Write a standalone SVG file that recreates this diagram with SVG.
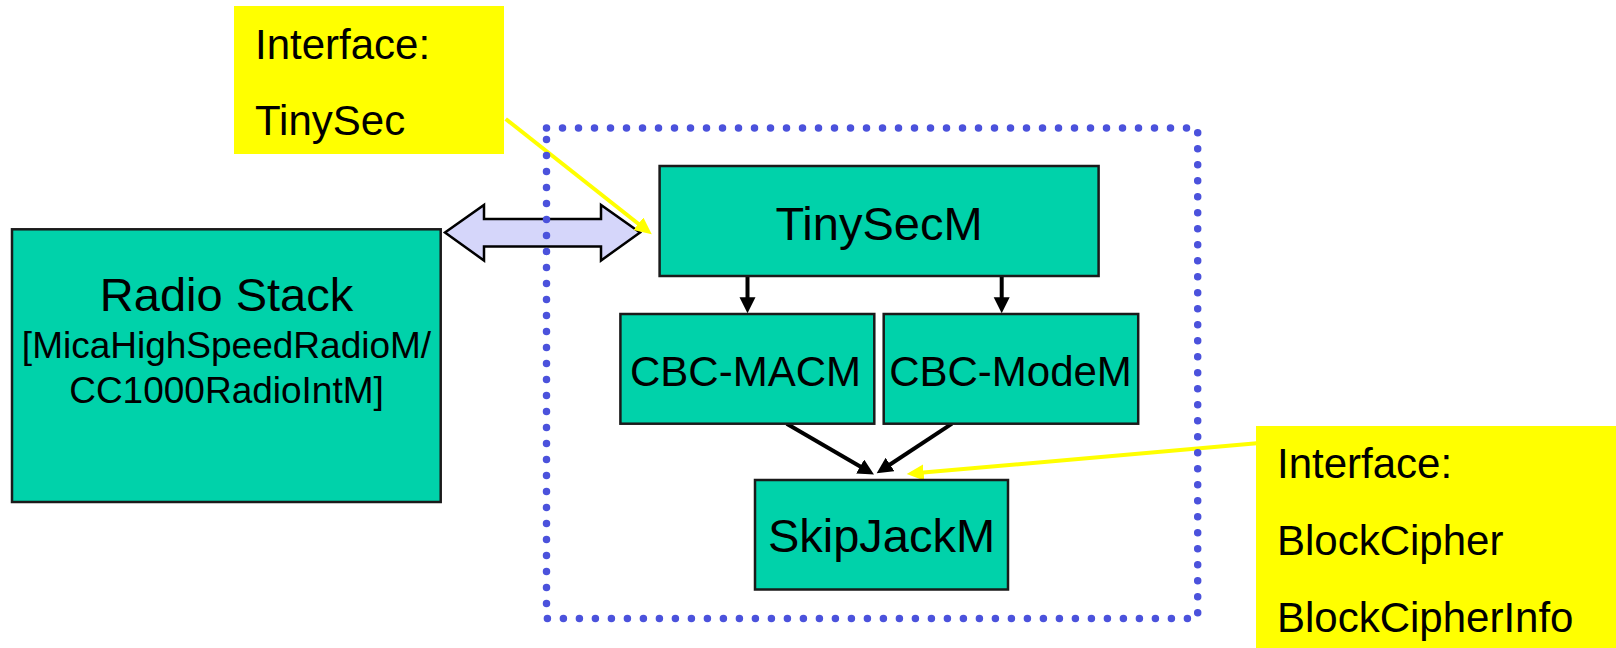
<svg xmlns="http://www.w3.org/2000/svg" width="1616" height="648" viewBox="0 0 1616 648">
<defs>
<style>
.node{fill:#00d2aa;stroke:#1a1a1a;stroke-width:2.5}
.note{fill:#ffff00}
.t{font-family:"Liberation Sans",Arial,sans-serif;fill:#000}
.c{text-anchor:middle}
.blk{stroke:#000;stroke-width:4;fill:none}
.yel{stroke:#ffff00;stroke-width:4;fill:none}
.dots{fill:none;stroke:#4b52dc;stroke-width:7.5;stroke-linecap:round;stroke-dasharray:0 16}
</style>
<marker id="ah" markerUnits="userSpaceOnUse" markerWidth="17" markerHeight="17" refX="10" refY="8" orient="auto">
<path d="M0,0 L16,8 L0,16 z" fill="#000"/>
</marker>
<marker id="ay" markerUnits="userSpaceOnUse" markerWidth="20" markerHeight="18" refX="12" refY="8" orient="auto">
<path d="M0,0 L17,8 L0,16 z" fill="#ffff00"/>
</marker>
</defs>
<rect width="1616" height="648" fill="#fff"/>

<g id="connectors">
<polygon points="445,232.5 484,205 484,219 601,219 601,205 640,232.5 601,260.5 601,246.5 484,246.5 484,260.5" fill="#d5d6fa" stroke="#000" stroke-width="2.5" stroke-linejoin="miter"/>
<line class="blk" x1="747.5" y1="276" x2="747.5" y2="307.3" marker-end="url(#ah)"/>
<line class="blk" x1="1001.7" y1="276" x2="1001.7" y2="307.3" marker-end="url(#ah)"/>
<line class="blk" x1="786.7" y1="423.7" x2="868.8" y2="471.5" marker-end="url(#ah)"/>
<line class="blk" x1="952" y1="423.7" x2="881.7" y2="470" marker-end="url(#ah)"/>
<line class="yel" x1="505.7" y1="119" x2="647.8" y2="231.2" marker-end="url(#ay)"/>
<line class="yel" x1="1256.7" y1="443.3" x2="911.7" y2="473.6" marker-end="url(#ay)"/>
</g>

<g id="container">
<rect class="dots" x="546.5" y="128" width="651.2" height="490.5"/>
</g>

<g id="note-tinysec">
<rect class="note" x="234" y="6" width="270" height="148"/>
<text class="t" x="255" y="59" font-size="42">Interface:</text>
<text class="t" x="255" y="135" font-size="42">TinySec</text>
</g>

<g id="radio-stack">
<rect class="node" x="12" y="229.3" width="428.7" height="272.7"/>
<text class="t c" x="226.5" y="311" font-size="47">Radio Stack</text>
<text class="t c" x="226.5" y="358" font-size="37">[MicaHighSpeedRadioM/</text>
<text class="t c" x="226.5" y="403" font-size="37">CC1000RadioIntM]</text>
</g>

<g id="tinysecm">
<rect class="node" x="659.6" y="166" width="439" height="110"/>
<text class="t c" x="879" y="240" font-size="47">TinySecM</text>
</g>

<g id="cbc-macm">
<rect class="node" x="620.4" y="314" width="253.9" height="109.7"/>
<text class="t c" x="745.5" y="386" font-size="42">CBC-MACM</text>
</g>

<g id="cbc-modem">
<rect class="node" x="883.7" y="314" width="254.5" height="109.7"/>
<text class="t c" x="1010.5" y="386" font-size="42">CBC-ModeM</text>
</g>

<g id="skipjackm">
<rect class="node" x="755" y="480" width="253" height="109.5"/>
<text class="t c" x="881.5" y="552" font-size="47">SkipJackM</text>
</g>

<g id="note-blockcipher">
<rect class="note" x="1256" y="426" width="360" height="222"/>
<text class="t" x="1277" y="478" font-size="42">Interface:</text>
<text class="t" x="1277" y="555" font-size="42">BlockCipher</text>
<text class="t" x="1277" y="632" font-size="42">BlockCipherInfo</text>
</g>
</svg>
